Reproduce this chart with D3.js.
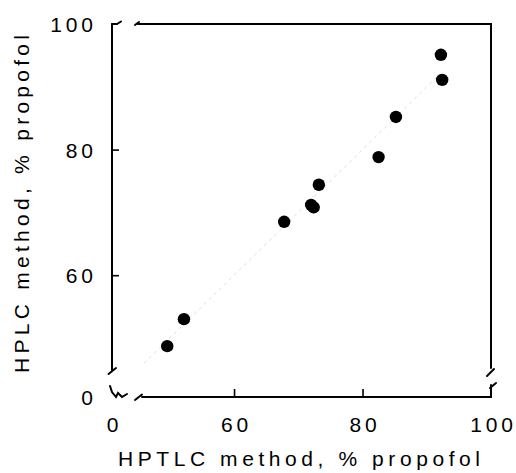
<!DOCTYPE html>
<html>
<head>
<meta charset="utf-8">
<script src="https://cdn.jsdelivr.net/npm/d3@7"></script>
<style>
  body { margin: 0; background: #fff; }
  svg text { font-family: "Liberation Sans", Arial, sans-serif; fill: #000; }
</style>
</head>
<body>
<svg id="chart" width="516" height="473"></svg>
<script>
// HPTLC (x) vs HPLC (y), % propofol
var hptlc = [92.2, 92.4, 85.2, 82.5, 73.2, 72.0, 72.4, 67.8, 52.2, 49.6];
var hplc  = [95.1, 91.1, 85.2, 78.8, 74.4, 71.2, 70.8, 68.5, 53.0, 48.7];

// axes are broken, so the first tick sits at the domain minimum and reads "0"
var xTickValues = [41, 60, 80, 100];
var xTickLabels = ['0', '60', '80', '100'];
var yTickValues = [40.6, 60, 80, 100];
var yTickLabels = ['0', '60', '80', '100'];
var identityLine = [46, 92];

var xTitle = 'HPTLC method, % propofol';
var yTitle = 'HPLC method, % propofol';

function create_scatter(canvas_id) {
    var chart = d3.select('#' + canvas_id);
    var left = 112, right = 491, top = 24, bottom = 397;
    var spacing = 3.8;

    var xs = d3.scaleLinear().domain([xTickValues[0], 100]).range([left, right]);
    var ys = d3.scaleLinear().domain([yTickValues[0], 100]).range([bottom, top]);

    // x axis (ticks point up into the plot)
    var xAxis = d3.axisBottom(xs).tickValues(xTickValues)
        .tickSize(0).tickPadding(0)
        .tickFormat(function (d, i) { return xTickLabels[i]; });
    var gx = chart.append('g').attr('transform', 'translate(0,' + bottom + ')').call(xAxis);
    gx.select('.domain').remove();
    gx.selectAll('.tick line')
        .attr('y2', function (d, i) { return (i == 0 || i == xTickValues.length - 1) ? 0 : -8; })
        .attr('stroke', '#000').attr('stroke-width', 1.6);
    gx.selectAll('.tick text')
        .attr('y', 35).attr('dy', 0)
        .attr('dx', spacing / 2)
        .style('font-size', '21px').style('letter-spacing', spacing + 'px');

    // y axis (ticks point right into the plot)
    var yAxis = d3.axisLeft(ys).tickValues(yTickValues)
        .tickSize(0).tickPadding(0)
        .tickFormat(function (d, i) { return yTickLabels[i]; });
    var gy = chart.append('g').attr('transform', 'translate(' + left + ',0)').call(yAxis);
    gy.select('.domain').remove();
    gy.selectAll('.tick line')
        .attr('x2', function (d, i) { return (i == 0 || i == yTickValues.length - 1) ? 0 : 7; })
        .attr('stroke', '#000').attr('stroke-width', 1.6);
    gy.selectAll('.tick text')
        .attr('x', -19 + spacing).attr('dy', '0.36em')
        .style('font-size', '21px').style('letter-spacing', spacing + 'px');

    // frame with break marks
    var frame = chart.append('g')
        .attr('fill', 'none').attr('stroke', '#000')
        .attr('stroke-width', 2).attr('stroke-linecap', 'round');
    var line = d3.line();
    // left axis
    frame.append('path').attr('d', line([[left, top], [left, bottom - 27]]));
    frame.append('path').attr('d', line([[left - 3.5, bottom - 23], [left + 4, bottom - 29]]));
    frame.append('path').attr('d', line([[left - 2, bottom - 11], [left, bottom - 5], [left + 4, bottom],
        [left + 6, bottom - 4], [left + 10, bottom], [left + 15, bottom - 3]]));
    // bottom axis
    frame.append('path').attr('d', line([[left + 23, bottom + 3], [left + 30, bottom - 2.5]]));
    frame.append('path').attr('d', line([[left + 30, bottom], [right, bottom], [right, bottom - 12]]));
    // right border
    frame.append('path').attr('d', line([[right - 1, bottom - 9], [right + 5, bottom - 14]]));
    frame.append('path').attr('d', line([[right - 4, bottom - 21], [right + 3, bottom - 28]]));
    frame.append('path').attr('d', line([[right, bottom - 29], [right, top], [left + 26, top]]));
    // top border
    frame.append('path').attr('d', line([[left + 23, top + 1], [left + 27, top - 2]]));
    frame.append('path').attr('d', line([[left, top], [left + 5, top], [left + 9, top - 2.5]]));

    // faint y = x line
    chart.append('path')
        .attr('d', line(identityLine.map(function (v) { return [xs(v), ys(v)]; })))
        .attr('stroke', '#dcdcdc').attr('stroke-width', 1)
        .attr('stroke-dasharray', '3,4').attr('fill', 'none');

    chart.selectAll('circle.pt').data(hptlc).enter().append('circle')
        .attr('class', 'pt')
        .attr('cx', function (d) { return xs(d); })
        .attr('cy', function (d, i) { return ys(hplc[i]); })
        .attr('r', 6.2)
        .attr('fill', '#000');

    chart.append('text')
        .attr('x', 118).attr('y', 466)
        .attr('textLength', 362).attr('lengthAdjust', 'spacing')
        .style('font-size', '21px')
        .text(xTitle);

    chart.append('text')
        .attr('transform', 'translate(29,373) rotate(-90)')
        .attr('textLength', 338).attr('lengthAdjust', 'spacing')
        .style('font-size', '21px')
        .text(yTitle);
}

create_scatter('chart');
</script>
</body>
</html>
